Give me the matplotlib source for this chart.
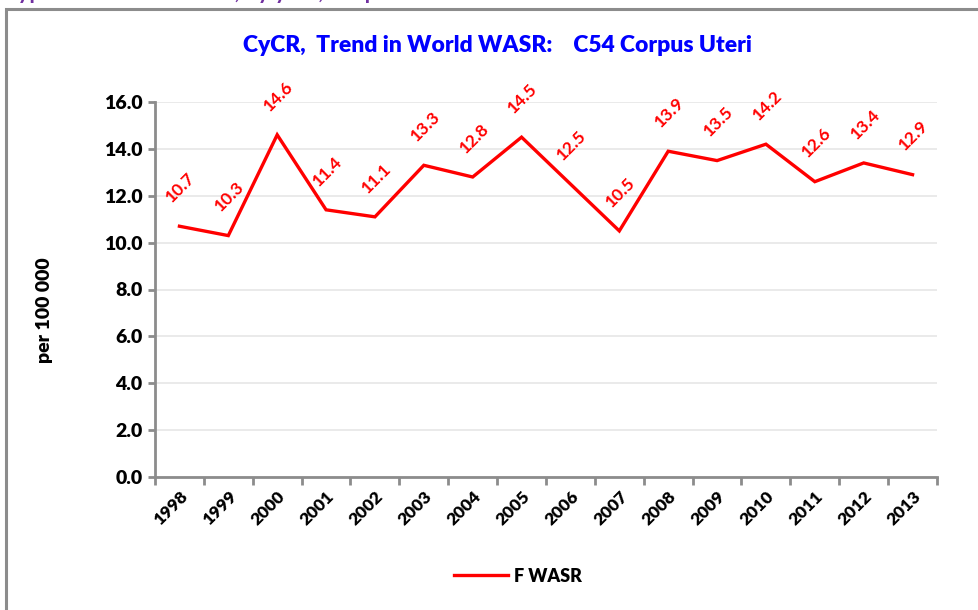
import matplotlib.pyplot as plt
from matplotlib.patches import Rectangle

plt.rcParams['font.family'] = ['Lato', 'DejaVu Sans']

years = ['1998', '1999', '2000', '2001', '2002', '2003', '2004', '2005',
         '2006', '2007', '2008', '2009', '2010', '2011', '2012', '2013']
f_wasr = [10.7, 10.3, 14.6, 11.4, 11.1, 13.3, 12.8, 14.5,
          12.5, 10.5, 13.9, 13.5, 14.2, 12.6, 13.4, 12.9]
y_ticks = [0, 2, 4, 6, 8, 10, 12, 14, 16]

fig = plt.figure(figsize=(9.79, 6.10), dpi=100)

# outer chart frame (cut off at right and bottom)
fig.patches.append(Rectangle((6 / 979, -0.1), 1.1, 1.1 - 9 / 610,
                             transform=fig.transFigure, fill=False,
                             edgecolor='#8c8c8c', linewidth=2.2))
# purple heading clipped by the top of the image
fig.text(3 / 979, 1 + 1 / 610, 'Cyprus  Trend in World, by year, Corpus Uteri',
         color='#7030A0', fontsize=16, fontweight='bold', va='baseline')

ax = fig.add_axes([155 / 979, 1 - 477 / 610, (937 - 155) / 979, (477 - 102) / 610])
x = list(range(len(years)))
ax.plot(x, f_wasr, color='red', linewidth=2.4, label='F WASR', solid_joinstyle='miter')

for xi, v in zip(x, f_wasr):
    ax.annotate('%.1f' % v, (xi, v), xytext=(1, 28), textcoords='offset points',
                ha='center', va='center', rotation=45, color='red',
                fontsize=12.5, fontweight='bold')

ax.set_xlim(-0.5, len(years) - 0.5)
ax.set_ylim(0, 16)
ax.set_yticks(y_ticks)
ax.set_yticklabels(['%.1f' % t for t in y_ticks], fontsize=14, fontweight='heavy')
ax.grid(axis='y', color='#e6e6e6', linewidth=1.2)
ax.set_axisbelow(True)

ax.set_xticks([i - 0.5 for i in range(len(years) + 1)])
ax.set_xticklabels([])
ax.set_xticks(x, minor=True)
ax.set_xticklabels(years, minor=True, rotation=45, ha='right', rotation_mode='anchor',
                   fontsize=12.5, fontweight='heavy')
ax.tick_params(axis='x', which='minor', length=0, pad=8)
ax.tick_params(axis='x', which='major', length=6, width=2, color='#8c8c8c', direction='out')
ax.tick_params(axis='y', length=5, width=2, color='#8c8c8c', direction='out', pad=4)

for s in ['top', 'right']:
    ax.spines[s].set_visible(False)
for s in ['left', 'bottom']:
    ax.spines[s].set_color('#8c8c8c')
    ax.spines[s].set_linewidth(2)

fig.text(497 / 979, 1 - 46 / 610, 'CyCR,  Trend in World WASR:    C54 Corpus Uteri',
         color='#0000ff', fontsize=16.5, fontweight='heavy', ha='center', va='center')
fig.text(45 / 979, 1 - 310 / 610, 'per 100 000', rotation=90, fontsize=14,
         fontweight='heavy', ha='center', va='center')

fig.legend(loc='center', bbox_to_anchor=(518 / 979, 1 - 576 / 610), frameon=False,
           prop={'size': 13, 'weight': 'heavy'}, handlelength=3.0, handletextpad=0.3)

fig.savefig('out.png', dpi=100)
